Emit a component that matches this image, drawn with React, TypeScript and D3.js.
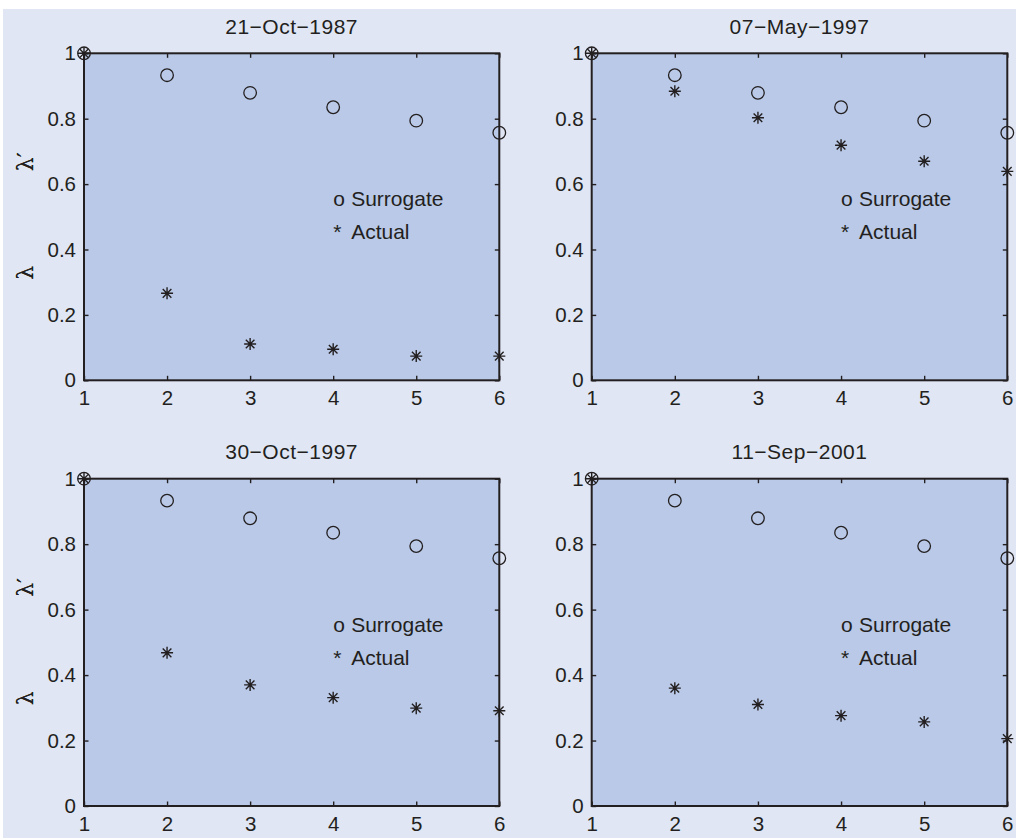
import React, { useRef, useEffect } from 'react'
import { select, scaleLinear, axisLeft, axisBottom, axisTop, axisRight } from 'd3'

// embedding dimension on the x axis
const steps = [1, 2, 3, 4, 5, 6]
const yTicks = [0, 0.2, 0.4, 0.6, 0.8, 1]

const titles = ['21−Oct−1987', '07−May−1997', '30−Oct−1997', '11−Sep−2001']

// surrogate series is the same in every panel
const surrogate = [1, 0.933, 0.879, 0.835, 0.794, 0.757]

const actualOct1987 = [1, 0.266, 0.111, 0.095, 0.074, 0.074]
const actualMay1997 = [1, 0.884, 0.803, 0.719, 0.67, 0.639]
const actualOct1997 = [1, 0.468, 0.37, 0.331, 0.299, 0.291]
const actualSep2001 = [1, 0.36, 0.31, 0.276, 0.257, 0.206]

const actuals = [actualOct1987, actualMay1997, actualOct1997, actualSep2001]

const legendLabels = ['Surrogate', 'Actual']
const legendSymbols = ['o', '*']
const legendY = [0.55, 0.45]
const legendX = 4

const ink = '#231f20'
const font = 'Liberation Sans, Arial, Helvetica, sans-serif'

export default function App() {
  const canvas = useRef<SVGSVGElement>(null)

  const width = 1016
  const height = 838
  const cols = [[84, 499.3], [591.7, 1007.3]]
  const rows = [[53.3, 380.3], [478.7, 806]]

  useEffect(() => {
    const svg = select(canvas.current)
    svg.selectAll('*').remove()

    svg.append('rect').attr('x', 3).attr('y', 9).attr('width', width - 3).attr('height', height - 9).attr('fill', '#e0e6f4')

    titles.forEach((title, i) => {
      const [x0, x1] = cols[i % 2]
      const [y0, y1] = rows[Math.floor(i / 2)]
      const x = scaleLinear().domain([1, 6]).range([x0, x1])
      const y = scaleLinear().domain([0, 1]).range([y1, y0])

      const g = svg.append('g')
      g.append('rect').attr('x', x0).attr('y', y0).attr('width', x1 - x0).attr('height', y1 - y0).attr('fill', '#b9c9e7')

      const styleAxis = (sel: any) => {
        sel.select('.domain').remove()
        sel.selectAll('line').attr('stroke', ink).attr('stroke-width', 1.4)
        sel.selectAll('text').attr('fill', ink).style('font-family', font).style('font-size', '20.5px')
      }

      g.append('g').attr('transform', `translate(0,${y1})`)
        .call(axisBottom(x).tickValues(steps).tickSize(-4.5).tickPadding(10).tickFormat((d: any) => `${d}`))
        .call(styleAxis)
      g.append('g').attr('transform', `translate(0,${y0})`)
        .call(axisTop(x).tickValues(steps).tickSize(-4.5).tickFormat(() => ''))
        .call(styleAxis)
      g.append('g').attr('transform', `translate(${x0},0)`)
        .call(axisLeft(y).tickValues(yTicks).tickSize(-4.5).tickPadding(8).tickFormat((d: any) => `${d}`))
        .call(styleAxis)
      g.append('g').attr('transform', `translate(${x1},0)`)
        .call(axisRight(y).tickValues(yTicks).tickSize(-4.5).tickFormat(() => ''))
        .call(styleAxis)

      g.append('rect').attr('x', x0).attr('y', y0).attr('width', x1 - x0).attr('height', y1 - y0)
        .attr('fill', 'none').attr('stroke', ink).attr('stroke-width', 2)

      g.append('text').attr('x', (x0 + x1) / 2).attr('y', y0 - 25).attr('text-anchor', 'middle')
        .attr('dominant-baseline', 'middle').attr('fill', ink).style('font-family', font).style('font-size', '21px')
        .style('letter-spacing', '0.5px')
        .text(title)

      // y label: lambda ... lambda'
      const mid = (y0 + y1) / 2
      ;[['λ', mid + 56], ['λ′', mid - 55]].forEach(([t, yy]) => {
        g.append('text').attr('transform', `translate(27,${yy}) rotate(-90)`)
          .attr('text-anchor', 'middle').attr('dominant-baseline', 'middle')
          .attr('fill', ink).style('font-family', 'DejaVu Serif, serif').style('font-size', '22px').text(t as string)
      })

      // surrogate circles
      g.selectAll('circle.sur').data(surrogate).enter().append('circle')
        .attr('cx', (d, j) => x(steps[j])).attr('cy', d => y(d)).attr('r', 6.3)
        .attr('fill', 'none').attr('stroke', ink).attr('stroke-width', 1.3)

      // actual stars
      const s = 6
      const sd = s * 0.72
      const star = `M${-s},0H${s}M0,${-s}V${s}M${-sd},${-sd}L${sd},${sd}M${-sd},${sd}L${sd},${-sd}`
      g.selectAll('path.act').data(actuals[i]).enter().append('path')
        .attr('transform', (d, j) => `translate(${x(steps[j])},${y(d)})`)
        .attr('d', star).attr('fill', 'none').attr('stroke', ink).attr('stroke-width', 1.4)

      // text legend placed in data coords
      legendLabels.forEach((label, k) => {
        const t = g.append('text').attr('x', x(legendX)).attr('y', y(legendY[k]))
          .attr('dominant-baseline', 'middle').attr('fill', ink)
          .style('font-family', font).style('font-size', '21px')
        t.append('tspan').text(legendSymbols[k])
        t.append('tspan').attr('x', x(legendX) + 18).text(label)
      })
    })
  })

  return (
    <svg ref={canvas} width={width} height={height} style={{ position: 'absolute', left: 0, top: 0, background: '#fff' }} />
  )
}
